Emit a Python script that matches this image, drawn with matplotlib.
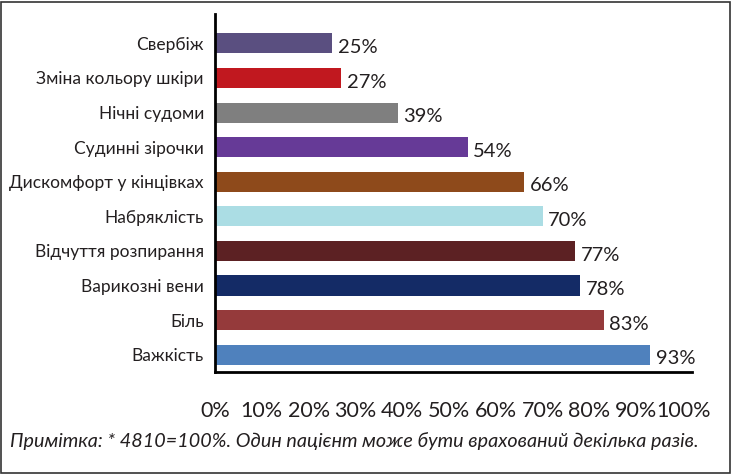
import matplotlib.pyplot as plt
from matplotlib.patches import Rectangle

# categories from bottom to top
categories = ['Важкість', 'Біль', 'Варикозні вени', 'Відчуття розпирання',
              'Набряклість', 'Дискомфорт у кінцівках', 'Судинні зірочки',
              'Нічні судоми', 'Зміна кольору шкіри', 'Свербіж']
values = [93, 83, 78, 77, 70, 66, 54, 39, 27, 25]
colors = ['#4F81BD', '#953A3B', '#142B66', '#5C2123', '#ABDDE4',
          '#8E4A1B', '#663A97', '#7F7F7F', '#C1181F', '#5A4F80']
xticks = list(range(0, 101, 10))
note = 'Примітка: * 4810=100%. Один пацієнт може бути врахований декілька разів.'

plt.rcParams['font.family'] = ['Lato', 'DejaVu Sans']

fig = plt.figure(figsize=(7.32, 4.74), dpi=100)
ax = fig.add_axes([0.2937, 0.2152, 0.651, 0.7553])

ypos = list(range(len(categories)))
ax.barh(ypos, values, height=0.58, color=colors)
for y, v in zip(ypos, values):
    ax.annotate(f'{v}%', (v, y), xytext=(4, -3), textcoords='offset points',
                ha='left', va='center', fontsize=14.5, color='#231F20')

ax.set_xlim(0, 101.8)
ax.set_ylim(-0.5, 9.85)
ax.set_yticks(ypos)
ax.set_yticklabels(categories, fontsize=12.5, color='#231F20')
ax.set_xticks(xticks)
ax.set_xticklabels([f'{t}%' for t in xticks], fontsize=15.5, color='#231F20')
ax.tick_params(axis='y', length=0, pad=8)
ax.tick_params(axis='x', length=0, pad=21)
for s in ['top', 'right']:
    ax.spines[s].set_visible(False)
ax.spines['left'].set_linewidth(2)
ax.spines['bottom'].set_linewidth(2)

fig.text(0.014, 0.058, note, fontsize=14.2, style='italic', color='#231F20')
fig.patches.append(Rectangle((0.002, 0.003), 0.995, 0.993, transform=fig.transFigure,
                             fill=False, edgecolor='#333333', linewidth=1.2))

fig.savefig('out.png', dpi=100)
